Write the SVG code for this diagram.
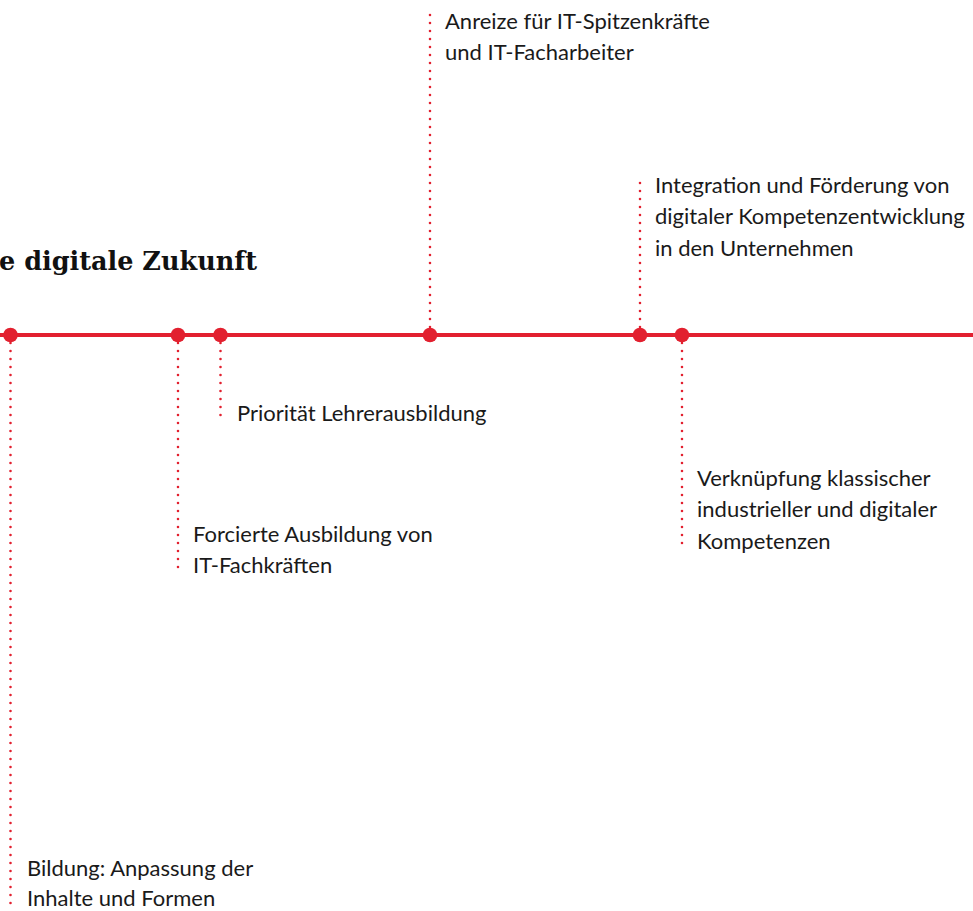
<svg xmlns="http://www.w3.org/2000/svg" width="973" height="911" viewBox="0 0 973 911">
<style>
.lbl{font-family:Lato,"Open Sans",sans-serif;font-size:22px;fill:#1a1a1a}
.title{font-family:"DejaVu Serif",serif;font-weight:bold;font-size:25.5px;fill:#111}
.lead{stroke:#e2202f;stroke-width:2.6;stroke-linecap:round;stroke-dasharray:0 8;fill:none}
.dot{fill:#e2202f}
</style>
<rect width="973" height="911" fill="#fff"/>
<text class="title" x="257" y="270" text-anchor="end">e digitale Zukunft</text>
<g id="connectors">
<line x1="0" y1="335" x2="973" y2="335" stroke="#e2202f" stroke-width="4"/>
<line class="lead" x1="10.5" y1="343" x2="10.5" y2="907"/>
<line class="lead" x1="178" y1="343" x2="178" y2="573"/>
<line class="lead" x1="220.5" y1="343" x2="220.5" y2="417"/>
<line class="lead" x1="430" y1="327" x2="430" y2="11"/>
<line class="lead" x1="640" y1="327" x2="640" y2="175"/>
<line class="lead" x1="682" y1="343" x2="682" y2="551"/>
</g>
<g id="n1"><circle class="dot" cx="10.5" cy="335" r="7.3"/><text class="lbl" x="27" y="876">Bildung: Anpassung der</text><text class="lbl" x="27" y="906">Inhalte und Formen</text></g>
<g id="n2"><circle class="dot" cx="178" cy="335" r="7.3"/><text class="lbl" x="193" y="542">Forcierte Ausbildung von</text><text class="lbl" x="193" y="573">IT-Fachkräften</text></g>
<g id="n3"><circle class="dot" cx="220.5" cy="335" r="7.3"/><text class="lbl" x="237" y="421">Priorität Lehrerausbildung</text></g>
<g id="n4"><circle class="dot" cx="430" cy="335" r="7.3"/><text class="lbl" x="445" y="29">Anreize für IT-Spitzenkräfte</text><text class="lbl" x="445" y="60">und IT-Facharbeiter</text></g>
<g id="n5"><circle class="dot" cx="640" cy="335" r="7.3"/><text class="lbl" x="655" y="193">Integration und Förderung von</text><text class="lbl" x="655" y="224">digitaler Kompetenzentwicklung</text><text class="lbl" x="655" y="256">in den Unternehmen</text></g>
<g id="n6"><circle class="dot" cx="682" cy="335" r="7.3"/><text class="lbl" x="697" y="486">Verknüpfung klassischer</text><text class="lbl" x="697" y="517">industrieller und digitaler</text><text class="lbl" x="697" y="549">Kompetenzen</text></g>
</svg>
